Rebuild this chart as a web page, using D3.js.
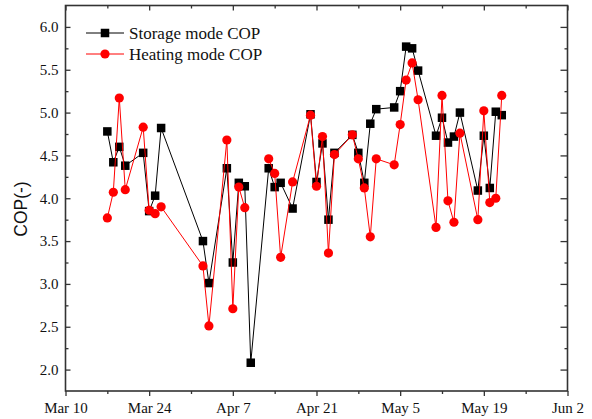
<!DOCTYPE html>
<html>
<head>
<meta charset="utf-8">
<script src="https://cdn.jsdelivr.net/npm/d3@7/dist/d3.min.js"></script>
<style>
  html, body { margin: 0; padding: 0; background: #fff; }
  svg { display: block; }
</style>
</head>
<body>
<svg id="chart" width="592" height="419"></svg>
<script>
// Measurement days (2015)
const dates = [
  "2015-03-17","2015-03-18","2015-03-19","2015-03-20","2015-03-23","2015-03-24","2015-03-25","2015-03-26",
  "2015-04-02","2015-04-03","2015-04-06","2015-04-07","2015-04-08","2015-04-09","2015-04-10",
  "2015-04-13","2015-04-14","2015-04-15","2015-04-17","2015-04-20","2015-04-21","2015-04-22","2015-04-23","2015-04-24",
  "2015-04-27","2015-04-28","2015-04-29","2015-04-30","2015-05-01","2015-05-04","2015-05-05","2015-05-06","2015-05-07","2015-05-08",
  "2015-05-11","2015-05-12","2015-05-13","2015-05-14","2015-05-15","2015-05-18","2015-05-19","2015-05-20","2015-05-21","2015-05-22"
];

// Daily COP in storage mode
const storageCOP = [
  4.78, 4.42, 4.60, 4.38, 4.53, 3.85, 4.03, 4.82,
  3.50, 3.01, 4.35, 3.25, 4.18, 4.14, 2.08,
  4.35, 4.13, 4.18, 3.88, 4.98, 4.19, 4.64, 3.75, 4.53,
  4.74, 4.53, 4.18, 4.87, 5.04, 5.06, 5.25, 5.77, 5.75, 5.49,
  4.73, 4.94, 4.65, 4.72, 5.00, 4.09, 4.73, 4.12, 5.01, 4.97
];

// Daily COP in heating mode (no reading on Apr 10)
const heatingCOP = [
  3.77, 4.07, 5.17, 4.10, 4.83, 3.86, 3.82, 3.90,
  3.21, 2.51, 4.68, 2.71, 4.13, 3.89, null,
  4.46, 4.29, 3.31, 4.19, 4.97, 4.14, 4.72, 3.36, 4.51,
  4.74, 4.46, 4.12, 3.55, 4.46, 4.39, 4.86, 5.38, 5.58, 5.15,
  3.66, 5.20, 3.97, 3.72, 4.76, 3.75, 5.02, 3.95, 4.00, 5.20
];

const xTickDates = ["2015-03-10","2015-03-24","2015-04-07","2015-04-21","2015-05-05","2015-05-19","2015-06-02"];
const yTickValues = [2.0, 2.5, 3.0, 3.5, 4.0, 4.5, 5.0, 5.5, 6.0];
const seriesNames = ["Storage mode COP", "Heating mode COP"];

const parse = d3.utcParse("%Y-%m-%d");
const fmt = d3.utcFormat("%b %-d");

const W = 592, H = 419;
const L = 65.5, R = 567.5, T = 5.5, B = 391;

const svg = d3.select("#chart");

const x = d3.scaleUtc()
  .domain([parse(xTickDates[0]), parse(xTickDates[xTickDates.length - 1])])
  .range([L, R]);
const y = d3.scaleLinear().domain([1.75, 6.25]).range([B, T]);

const majorX = xTickDates.map(parse);
const minorX = d3.pairs(majorX).map(([a, b]) => new Date((+a + +b) / 2));
const minorY = d3.pairs(yTickValues).map(([a, b]) => (a + b) / 2)
  .concat([1.75 + 0.0, 6.25]).filter(v => v > 1.76 && v < 6.24);

const serif = "'Liberation Serif', 'Times New Roman', serif";
const axisColor = "#333";

// Frame
svg.append("rect")
  .attr("x", L).attr("y", T).attr("width", R - L).attr("height", B - T)
  .attr("fill", "none").attr("stroke", axisColor).attr("stroke-width", 1.6);

// Bottom axis (ticks outward)
const xAxis = d3.axisBottom(x).tickValues(majorX).tickFormat(fmt).tickSize(5).tickSizeOuter(0).tickPadding(6);
const gx = svg.append("g").attr("transform", `translate(0,${B})`).call(xAxis);
gx.select(".domain").remove();
gx.selectAll("line").attr("stroke", axisColor).attr("stroke-width", 1.3);
gx.selectAll("text").attr("font-family", serif).attr("font-size", 15).attr("fill", "#111");
svg.append("g").attr("transform", `translate(0,${B})`)
  .call(d3.axisBottom(x).tickValues(minorX).tickFormat("").tickSize(3).tickSizeOuter(0))
  .call(g => g.select(".domain").remove())
  .selectAll("line").attr("stroke", axisColor).attr("stroke-width", 1.3);

// Top axis (ticks inward)
svg.append("g").attr("transform", `translate(0,${T})`)
  .call(d3.axisBottom(x).tickValues(majorX).tickFormat("").tickSize(5).tickSizeOuter(0))
  .call(g => g.select(".domain").remove())
  .selectAll("line").attr("stroke", axisColor).attr("stroke-width", 1.3);
svg.append("g").attr("transform", `translate(0,${T})`)
  .call(d3.axisBottom(x).tickValues(minorX).tickFormat("").tickSize(3).tickSizeOuter(0))
  .call(g => g.select(".domain").remove())
  .selectAll("line").attr("stroke", axisColor).attr("stroke-width", 1.3);

// Left axis (ticks inward)
const yAxis = d3.axisRight(y).tickValues(yTickValues).tickFormat(d3.format(".1f")).tickSize(5).tickSizeOuter(0);
const gy = svg.append("g").attr("transform", `translate(${L},0)`).call(yAxis);
gy.select(".domain").remove();
gy.selectAll("line").attr("stroke", axisColor).attr("stroke-width", 1.3);
gy.selectAll("text").attr("x", -7).attr("text-anchor", "end")
  .attr("font-family", serif).attr("font-size", 15).attr("fill", "#111");
svg.append("g").attr("transform", `translate(${L},0)`)
  .call(d3.axisRight(y).tickValues(minorY).tickFormat("").tickSize(3).tickSizeOuter(0))
  .call(g => g.select(".domain").remove())
  .selectAll("line").attr("stroke", axisColor).attr("stroke-width", 1.3);

// Right axis (ticks inward)
svg.append("g").attr("transform", `translate(${R},0)`)
  .call(d3.axisLeft(y).tickValues(yTickValues).tickFormat("").tickSize(7).tickSizeOuter(0))
  .call(g => g.select(".domain").remove())
  .selectAll("line").attr("stroke", axisColor).attr("stroke-width", 1.3);
svg.append("g").attr("transform", `translate(${R},0)`)
  .call(d3.axisLeft(y).tickValues(minorY).tickFormat("").tickSize(3).tickSizeOuter(0))
  .call(g => g.select(".domain").remove())
  .selectAll("line").attr("stroke", axisColor).attr("stroke-width", 1.3);

// Y axis title
svg.append("text")
  .attr("transform", `translate(27,209) rotate(-90)`)
  .attr("text-anchor", "middle")
  .attr("font-family", "'Liberation Sans', Arial, sans-serif")
  .attr("font-size", 17.5)
  .attr("fill", "#111")
  .text("COP(-)");

// Series
const storage = dates.map((d, i) => ({ date: parse(d), v: storageCOP[i] }));
const heating = dates.map((d, i) => ({ date: parse(d), v: heatingCOP[i] }));

const line = d3.line().defined(d => d.v != null).x(d => x(d.date)).y(d => y(d.v));

const SQ = 8.5, RAD = 4.6;

svg.append("path").datum(storage)
  .attr("d", line).attr("fill", "none").attr("stroke", "#000").attr("stroke-width", 1);
svg.append("g").selectAll("rect").data(storage).join("rect")
  .attr("x", d => x(d.date) - SQ / 2).attr("y", d => y(d.v) - SQ / 2)
  .attr("width", SQ).attr("height", SQ).attr("fill", "#000");

svg.append("path").datum(heating)
  .attr("d", line).attr("fill", "none").attr("stroke", "#ff0000").attr("stroke-width", 1);
svg.append("g").selectAll("circle").data(heating.filter(d => d.v != null)).join("circle")
  .attr("cx", d => x(d.date)).attr("cy", d => y(d.v)).attr("r", RAD).attr("fill", "#ff0000");

// Legend
const legend = svg.append("g");
const rows = [
  { name: seriesNames[0], color: "#000", shape: "square", yy: 33 },
  { name: seriesNames[1], color: "#ff0000", shape: "circle", yy: 54 }
];
rows.forEach(r => {
  legend.append("line").attr("x1", 86).attr("x2", 124).attr("y1", r.yy).attr("y2", r.yy)
    .attr("stroke", r.color).attr("stroke-width", 1);
  if (r.shape === "square") {
    legend.append("rect").attr("x", 105 - SQ / 2).attr("y", r.yy - SQ / 2)
      .attr("width", SQ).attr("height", SQ).attr("fill", r.color);
  } else {
    legend.append("circle").attr("cx", 105).attr("cy", r.yy).attr("r", RAD).attr("fill", r.color);
  }
  legend.append("text").attr("x", 129).attr("y", r.yy + 5.5)
    .attr("font-family", serif).attr("font-size", 17).attr("fill", "#111")
    .text(r.name);
});
</script>
</body>
</html>
